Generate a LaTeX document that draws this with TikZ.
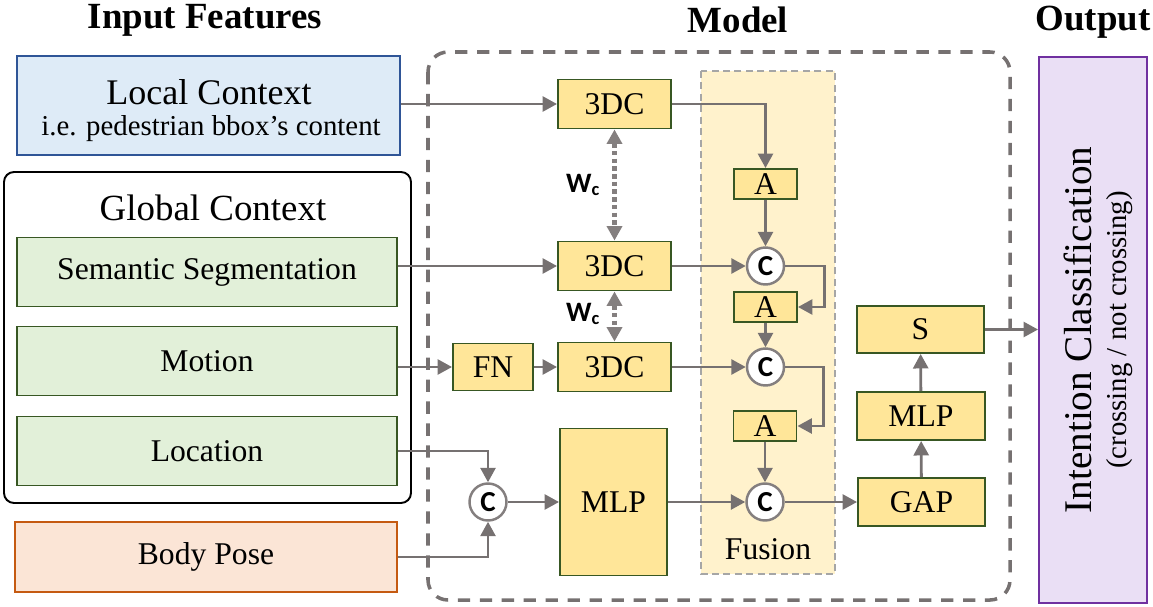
\documentclass[tikz,border=0pt]{standalone}
\usepackage{fontspec}
\setmainfont{Liberation Serif}
\setsansfont{Carlito}
\usepackage{tikz}
\usetikzlibrary{positioning,arrows.meta,calc}
\definecolor{lcfill}{HTML}{DEEBF7}
\definecolor{lcline}{HTML}{2F5597}
\definecolor{gcfill}{HTML}{E2F0D9}
\definecolor{gcline}{HTML}{385723}
\definecolor{bpfill}{HTML}{FBE5D6}
\definecolor{bpline}{HTML}{C55A11}
\definecolor{modfill}{HTML}{FFE699}
\definecolor{fusfill}{HTML}{FFF2CC}
\definecolor{outfill}{HTML}{EADFF5}
\definecolor{outline}{HTML}{7030A0}
\definecolor{arrgray}{HTML}{767171}
\tikzset{
  figbox/.style={draw, line width=1.1pt, align=center, inner sep=2pt,
    font=\fontsize{18}{21}\selectfont},
  figin/.style={figbox, fill=gcfill, draw=gcline, minimum width=7.60cm, minimum height=1.38cm},
  figmod/.style={figbox, fill=modfill, draw=gcline, minimum width=2.26cm, minimum height=0.98cm},
  figatt/.style={figmod, minimum width=1.26cm, minimum height=0.60cm},
  figcat/.style={circle, draw=arrgray!90, line width=1.4pt, fill=white, minimum size=0.74cm,
    inner sep=0pt, font=\fontsize{16.5}{16}\sffamily\bfseries},
  figarrow/.style={-{Triangle[length=2.9mm,width=3mm]}, draw=arrgray, line width=1.6pt},
  figtie/.style={{Triangle[length=2.9mm,width=3mm]}-{Triangle[length=2.9mm,width=3mm]},
    draw=arrgray!90, line width=2.6pt, dash pattern=on 2.6pt off 1.8pt},
  figtitle/.style={font=\fontsize{21}{25}\selectfont\bfseries},
  figlabel/.style={font=\fontsize{16}{16}\sffamily\bfseries},
}
\begin{document}
\begin{tikzpicture}
  \useasboundingbox (0,0) rectangle (23.06,-12.12);
  \node[figtitle] (tin) at (4.10,-0.40) {Input Features};
  \node[figtitle] (tmod) at (14.76,-0.40) {Model};
  \node[figtitle] (tout) at (21.86,-0.44) {Output};

  \draw[arrgray, line width=2pt, dash pattern=on 7pt off 5.5pt, rounded corners=0.4cm]
    (8.56,-1.04) rectangle (20.20,-12.00);
  \draw[fill=fusfill, draw=black!35, line width=1pt, dash pattern=on 4pt off 2.5pt]
    (14.02,-1.42) rectangle (16.70,-11.48);
  \node[font=\fontsize{18}{21}\selectfont] (fus) at (15.36,-10.98) {Fusion};

  \node[figbox, fill=lcfill, draw=lcline, minimum width=7.66cm, minimum height=1.98cm] (lctx) at (4.17,-2.11) {};
  \node[font=\fontsize{20.5}{23}\selectfont] (lctxa) at (4.18,-1.84) {Local Context};
  \node[font=\fontsize{16.4}{19}\selectfont] (lctxb) at (4.22,-2.58) {i.e. pedestrian bbox’s content};
  \draw[line width=1.1pt, rounded corners=0.2cm] (0.08,-3.44) rectangle (8.22,-10.06);
  \node[font=\fontsize{21}{25}\selectfont] (gctx) at (4.26,-4.16) {Global Context};
  \node[figin] (segm) at (4.14,-5.44) {Semantic Segmentation};
  \node[figin] (motion) at (4.14,-7.22) {Motion};
  \node[figin] (loc) at (4.14,-9.02) {Location};
  \node[figbox, fill=bpfill, draw=bpline, minimum width=7.64cm, minimum height=1.40cm] (pose) at (4.12,-11.14) {Body Pose};

  \node[figmod] (dca) at (12.29,-2.08) {3DC};
  \node[figmod] (dcb) at (12.29,-5.32) {3DC};
  \node[figmod] (dcc) at (12.29,-7.34) {3DC};
  \node[figmod, minimum width=1.60cm, minimum height=0.94cm] (fn) at (9.86,-7.34) {FN};
  \node[figmod, minimum width=2.14cm, minimum height=2.94cm] (mlpa) at (12.27,-10.04) {MLP};
  \node[figatt] (atta) at (15.31,-3.68) {A};
  \node[figatt] (attb) at (15.31,-6.14) {A};
  \node[figatt] (attc) at (15.30,-8.52) {A};
  \node[figcat] (cata) at (15.31,-5.32) {C};
  \node[figcat] (catb) at (15.31,-7.34) {C};
  \node[figcat] (catc) at (15.30,-10.04) {C};
  \node[figcat] (catl) at (9.76,-10.04) {C};
  \node[figmod, minimum width=2.54cm, minimum height=0.96cm] (gap) at (18.43,-10.04) {GAP};
  \node[figmod, minimum width=2.56cm, minimum height=0.96cm] (mlpb) at (18.42,-8.32) {MLP};
  \node[figmod, minimum width=2.54cm, minimum height=0.94cm] (smax) at (18.41,-6.59) {S};
  \node[figbox, fill=outfill, draw=outline, minimum width=2.16cm, minimum height=10.92cm] (out) at (21.86,-6.60) {};
  \node[rotate=90, align=center, font=\fontsize{22.3}{22}\selectfont] (outtxt) at (21.96,-6.60)
    {Intention Classification\\[-2pt]{\fontsize{16.4}{19}\selectfont (crossing / not crossing)}};

  \draw[figtie] (dca) -- node[figlabel, left=4pt] {W\raisebox{-0.2ex}{\fontsize{10.5}{10}\selectfont c}} (dcb);
  \draw[figtie] (dcb) -- node[figlabel, left=4pt, pos=0.45] {W\raisebox{-0.2ex}{\fontsize{10.5}{10}\selectfont c}} (dcc);

  \draw[figarrow] (lctx.east |- dca.west) -- (dca.west);
  \draw[figarrow] (dca.east) -| (atta.north);
  \draw[figarrow] (atta) -- (cata);
  \draw[figarrow] (segm.east |- dcb.west) -- (dcb.west);
  \draw[figarrow] (dcb) -- (cata);
  \draw[figarrow] (cata.east) -- ++(0.78,0) |- (attb.east);
  \draw[figarrow] (attb) -- (catb);
  \draw[figarrow] (motion.east |- fn.west) -- (fn.west);
  \draw[figarrow] (fn) -- (dcc);
  \draw[figarrow] (dcc) -- (catb);
  \draw[figarrow] (catb.east) -- ++(0.76,0) |- (attc.east);
  \draw[figarrow] (attc) -- (catc);
  \draw[figarrow] (loc.east) -| (catl.north);
  \draw[figarrow] (pose.east) -| (catl.south);
  \draw[figarrow] (catl) -- (mlpa);
  \draw[figarrow] (mlpa) -- (catc);
  \draw[figarrow] (catc) -- (gap);
  \draw[figarrow] (gap) -- (mlpb);
  \draw[figarrow] (mlpb) -- (smax);
  \draw[figarrow] (smax.east) -- (smax.east -| out.west);
\end{tikzpicture}
\end{document}
